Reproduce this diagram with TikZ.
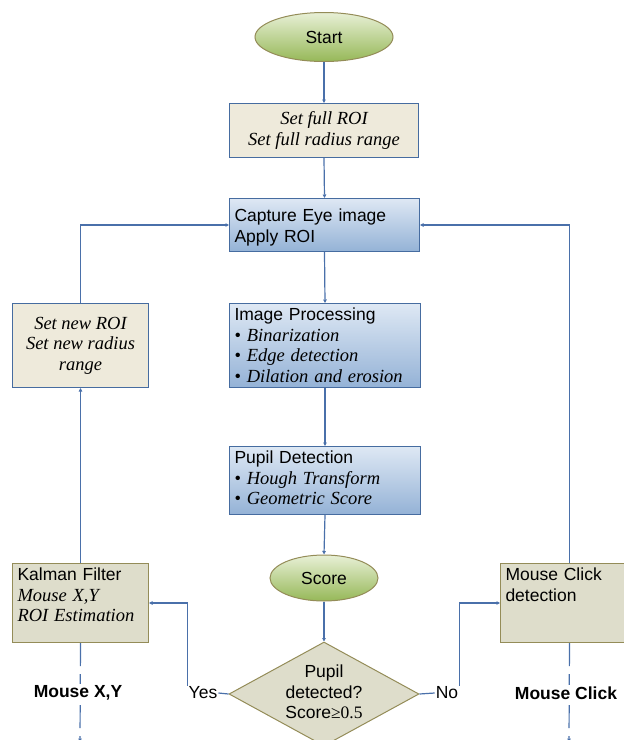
\documentclass[tikz,border=0pt]{standalone}
\usepackage{fontspec}
\setmainfont{Liberation Serif}
\setsansfont{Liberation Sans}
\usetikzlibrary{shapes.geometric,arrows.meta}
\definecolor{linecol}{RGB}{74,112,170}
\definecolor{bluetop}{RGB}{222,232,244}
\definecolor{bluebot}{RGB}{148,178,214}
\definecolor{blueedge}{RGB}{70,108,160}
\definecolor{beige}{RGB}{238,234,219}
\definecolor{khaki}{RGB}{222,221,203}
\definecolor{olive}{RGB}{148,140,88}
\definecolor{greentop}{RGB}{232,240,214}
\definecolor{greenbot}{RGB}{150,184,88}
\newcommand{\sff}{\fontsize{17.5}{20.5}\selectfont\sffamily}
\newcommand{\itf}{\fontsize{18.5}{20.5}\selectfont\rmfamily\itshape}
\newcommand{\bul}[1]{{\fontsize{18.5}{20.5}\selectfont\rmfamily\upshape\textbullet\ \itshape #1}}
\tikzset{
  flow/.style={draw=linecol, line width=1.2pt, -{Triangle[length=3.5pt,width=3.5pt]}},
  flowline/.style={draw=linecol, line width=1.2pt},
  terminal/.style={ellipse, draw=olive, line width=1pt, top color=greentop, bottom color=greenbot, font=\sff},
  procbox/.style={rectangle, anchor=north west, draw=blueedge, line width=1pt, top color=bluetop, bottom color=bluebot, inner xsep=5pt, inner ysep=0pt, align=left, font=\sff},
  notebox/.style={rectangle, anchor=north west, draw=blueedge, line width=1pt, fill=beige, align=center, font=\itf, inner sep=0pt},
  kbox/.style={rectangle, anchor=north west, draw=olive, line width=1pt, fill=khaki, inner xsep=5pt, inner ysep=0pt, align=left, font=\sff},
  tag/.style={font=\sff, inner sep=1pt},
  bigtag/.style={font=\sff\bfseries, fill=white, inner sep=2pt},
}
\begin{document}
\begin{tikzpicture}[x=1pt, y=-1pt]
\clip (0,0) rectangle (624,740);
\node[terminal, minimum width=138pt, minimum height=49pt] (start) at (324,37) {Start};
\node[notebox, minimum width=189pt, minimum height=54pt] (setfull) at (229,103) {Set full ROI\\Set full radius range};
\node[procbox, text width=180pt, text height=23pt, text depth=30pt] (capture) at (229,198) {Capture Eye image\\Apply ROI};
\node[procbox, text width=181pt, text height=17pt, text depth=67pt] (improc) at (229,303) {Image Processing\\\bul{Binarization}\\\bul{Edge detection}\\\bul{Dilation and erosion}};
\node[procbox, text width=181pt, text height=17pt, text depth=51pt] (pupil) at (229,446) {Pupil Detection\\\bul{Hough Transform}\\\bul{Geometric Score}};
\node[terminal, minimum width=108pt, minimum height=46pt] (score) at (324,578) {Score};
\node[diamond, draw=olive, line width=1pt, fill=khaki, minimum width=190pt, minimum height=104pt, inner sep=0pt] (dec) at (324,694) {};
\node[font=\sff, align=center] (dectxt) at (324,692) {Pupil\\detected?\\Score{\rmfamily ≥0.5}};
\node[notebox, minimum width=136pt, minimum height=84pt] (newroi) at (12,303) {Set new ROI\\Set new radius\\range};
\node[kbox, text width=126pt, text height=17pt, text depth=62pt] (kalman) at (12,563) {Kalman Filter\\{\itf Mouse X,Y}\\{\itf ROI Estimation}};
\node[kbox, text width=128pt, text height=17pt, text depth=62pt] (click) at (500,563) {Mouse Click\\detection};
\node[tag] (yes) at (203,693) {Yes};
\node[tag] (no) at (447,693) {No};
\coordinate (kend) at (80,742);
\coordinate (cend) at (569,742);

\draw[flow] (start.south) -- (setfull.north);
\draw[flow] (setfull.south) -- (capture.north);
\draw[flow] (capture.south) -- (improc.north);
\draw[flow] (improc.south) -- (pupil.north);
\draw[flow] (pupil.south) -- (score.north);
\draw[flow] (score.south) -- (dec.north);
\draw[flowline] (dec.west) -- (yes.east);
\draw[flow] (yes.north west) |- (kalman.east);
\draw[flowline] (dec.east) -- (no.west);
\draw[flow] (no.north east) |- (click.west);
\draw[flow] (kalman.north) -- (newroi.south);
\draw[flow] (newroi.north) |- (capture.west);
\draw[flow] (click.north) |- (capture.east);
\draw[flow, dash pattern=on 23pt off 8pt] (kalman.south) -- (kend);
\draw[flow, dash pattern=on 23pt off 8pt] (click.south) -- (cend);
\node[bigtag] (mxy) at (78,693) {Mouse X,Y};
\node[bigtag] (mclick) at (566,693) {Mouse Click};
\end{tikzpicture}
\end{document}
